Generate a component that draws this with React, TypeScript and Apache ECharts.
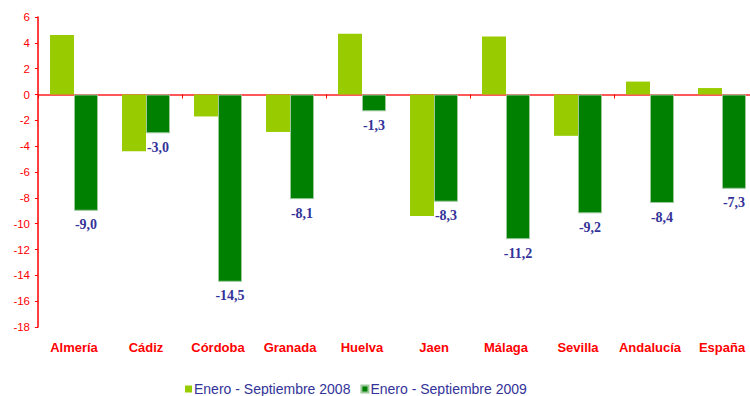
import React, { useEffect, useRef } from "react";
import * as echarts from "echarts";

const categories = ["Almería", "Cádiz", "Córdoba", "Granada", "Huelva", "Jaen", "Málaga", "Sevilla", "Andalucía", "España"];
const series2008 = [4.6, -4.4, -1.7, -2.9, 4.7, -9.4, 4.5, -3.2, 1.0, 0.5];
const series2009 = [-9.0, -3.0, -14.5, -8.1, -1.3, -8.3, -11.2, -9.2, -8.4, -7.3];
const seriesNames = ["Enero - Septiembre 2008", "Enero - Septiembre 2009"];
const yMin = -18;
const yMax = 6;
const yInterval = 2;

export default function App() {
  const ref = useRef<HTMLDivElement>(null);
  useEffect(() => {
    document.body.style.margin = "0";
    if (!ref.current) return;
    const chart = echarts.init(ref.current, undefined, { renderer: "svg" });
    const sans = "'Liberation Sans', Arial, sans-serif";
    chart.setOption({
      animation: false,
      backgroundColor: "#ffffff",
      grid: { left: 38, top: 17, width: 720, height: 310, containLabel: false, outerBoundsMode: "none" },
      legend: {
        left: 185,
        top: 382,
        padding: 0,
        itemWidth: 7,
        itemHeight: 7,
        itemGap: 10,
        icon: "rect",
        textStyle: { color: "#333399", fontSize: 14, fontFamily: sans, padding: [0, 0, 0, -3] },
        data: seriesNames,
      },
      xAxis: [
        {
          type: "category",
          data: categories,
          position: "bottom",
          axisLine: { show: false, onZero: false },
          axisTick: { show: false },
          axisLabel: {
            color: "#ff0000",
            fontWeight: "bold",
            fontSize: 13,
            fontFamily: sans,
            margin: 14,
            interval: 0,
          },
          splitLine: { show: false },
        },
        {
          type: "category",
          data: categories,
          position: "top",
          axisLine: { show: true, onZero: true, lineStyle: { color: "#ff2020", width: 1.5 } },
          axisTick: { show: true, inside: true, length: 4, interval: 1, lineStyle: { color: "#ff0000", width: 1 } },
          axisLabel: { show: false },
          splitLine: { show: false },
        },
      ],
      yAxis: {
        type: "value",
        min: yMin,
        max: yMax,
        interval: yInterval,
        axisLine: { show: true, lineStyle: { color: "#ff0000", width: 1.5 } },
        axisTick: { show: true, length: 3, lineStyle: { color: "#ff0000" } },
        axisLabel: { color: "#ff0000", fontSize: 11.5, fontFamily: sans, margin: 8 },
        splitLine: { show: false },
      },
      series: [
        {
          name: seriesNames[0],
          type: "bar",
          xAxisIndex: 0,
          data: series2008,
          barWidth: 24,
          barGap: "0%",
          itemStyle: { color: "#99cc00" },
        },
        {
          name: seriesNames[1],
          type: "bar",
          xAxisIndex: 0,
          data: series2009,
          barWidth: 24,
          barGap: "0%",
          itemStyle: { color: "#008000", borderColor: "#9cc89c", borderWidth: 1 },
          label: {
            show: true,
            position: "bottom",
            distance: 6,
            color: "#333399",
            fontFamily: "'Liberation Serif', 'Times New Roman', serif",
            fontWeight: "bold",
            fontSize: 14,
            backgroundColor: "#ffffff",
            padding: [1, 0, 0, 0],
            formatter: (p: any) => Number(p.value).toFixed(1).replace(".", ","),
          },
          z: 3,
        },
      ],
    });
    return () => chart.dispose();
  }, []);
  return <div ref={ref} style={{ width: 750, height: 396 }} />;
}
